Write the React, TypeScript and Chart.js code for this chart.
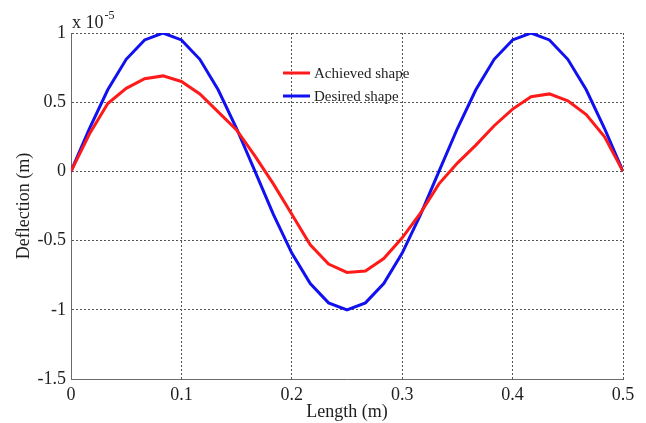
import React, { useEffect, useRef } from "react";
import { Chart, registerables } from "chart.js";

Chart.register(...registerables);

const lengthM = [
  0, 0.0167, 0.0333, 0.05, 0.0667, 0.0833, 0.1, 0.1167, 0.1333, 0.15, 0.1667,
  0.1833, 0.2, 0.2167, 0.2333, 0.25, 0.2667, 0.2833, 0.3, 0.3167, 0.3333,
  0.35, 0.3667, 0.3833, 0.4, 0.4167, 0.4333, 0.45, 0.4667, 0.4833, 0.5,
];

const achieved = [
  0, 0.27, 0.49, 0.6, 0.67, 0.69, 0.65, 0.56, 0.43, 0.3, 0.11,
  -0.09, -0.31, -0.53, -0.67, -0.73, -0.72, -0.63, -0.48, -0.3, -0.09,
  0.06, 0.19, 0.33, 0.45, 0.54, 0.56, 0.51, 0.41, 0.25, 0,
];

const desired = [
  0, 0.31, 0.59, 0.81, 0.95, 1.0, 0.95, 0.81, 0.59, 0.31, 0,
  -0.31, -0.59, -0.81, -0.95, -1.0, -0.95, -0.81, -0.59, -0.31, 0,
  0.31, 0.59, 0.81, 0.95, 1.0, 0.95, 0.81, 0.59, 0.31, 0,
];

const seriesLabels = ["Achieved shape", "Desired shape"];
const seriesColors = ["#ff1a1a", "#1010f0"];
const xTickLabels = ["0", "0.1", "0.2", "0.3", "0.4", "0.5"];
const yTickLabels = ["-1.5", "-1", "-0.5", "0", "0.5", "1"];
const xTitle = "Length (m)";
const yTitle = "Deflection (m)";
const scaleText = "x 10";
const scaleExp = "-5";

const FONT = "'Liberation Serif', 'Times New Roman', serif";
const TEXT = "#1e1e1e";

export default function App() {
  const ref = useRef<HTMLCanvasElement | null>(null);

  useEffect(() => {
    if (!ref.current) return;
    const toPts = (ys: number[]) => ys.map((y, i) => ({ x: lengthM[i], y }));

    const overlay = {
      id: "overlay",
      afterDraw(chart: any) {
        const ctx = chart.ctx as CanvasRenderingContext2D;
        const area = chart.chartArea;
        ctx.save();
        ctx.fillStyle = TEXT;
        ctx.textBaseline = "alphabetic";
        ctx.textAlign = "left";
        ctx.font = `18px ${FONT}`;
        const bx = area.left + 1;
        const by = area.top - 5;
        ctx.fillText(scaleText, bx, by);
        const w = ctx.measureText(scaleText).width;
        ctx.font = `12px ${FONT}`;
        ctx.fillText(scaleExp, bx + w + 1, by - 9);
        const lx = 283;
        const rows = [73, 96];
        ctx.font = `15px ${FONT}`;
        ctx.textBaseline = "middle";
        seriesLabels.forEach((lab, i) => {
          ctx.strokeStyle = seriesColors[i];
          ctx.lineWidth = 3;
          ctx.beginPath();
          ctx.moveTo(lx, rows[i]);
          ctx.lineTo(lx + 27, rows[i]);
          ctx.stroke();
          ctx.fillStyle = TEXT;
          ctx.fillText(lab, lx + 31, rows[i] + 1);
        });
        ctx.restore();
      },
    };

    const chart = new Chart(ref.current, {
      type: "line",
      data: {
        datasets: [
          {
            label: seriesLabels[0],
            data: toPts(achieved),
            borderColor: seriesColors[0],
            borderWidth: 3,
            pointRadius: 0,
            tension: 0,
            fill: false,
          },
          {
            label: seriesLabels[1],
            data: toPts(desired),
            borderColor: seriesColors[1],
            borderWidth: 3,
            pointRadius: 0,
            tension: 0,
            fill: false,
          },
        ],
      },
      options: {
        responsive: false,
        animation: false,
        devicePixelRatio: 1,
        layout: { padding: { top: 33, right: 23, left: 0, bottom: 0 } },
        plugins: {
          legend: { display: false },
          tooltip: { enabled: false },
        },
        scales: {
          x: {
            type: "linear",
            min: 0,
            max: 0.5,
            afterFit: (s: any) => {
              s.height = 44;
            },
            afterBuildTicks: (s: any) => {
              s.ticks = xTickLabels.map((t) => ({ value: parseFloat(t) }));
            },
            ticks: {
              autoSkip: false,
              maxRotation: 0,
              padding: 5,
              color: TEXT,
              font: { family: FONT, size: 18 },
              callback: (v: any, i: number) => xTickLabels[i],
            },
            grid: { color: "#555", lineWidth: 1, drawTicks: false },
            border: { display: true, color: "#6a6a6a", width: 1, dash: [2, 2] },
            title: {
              display: true,
              text: xTitle,
              color: TEXT,
              font: { family: FONT, size: 18 },
              padding: { top: 0, bottom: 0 },
            },
          },
          y: {
            type: "linear",
            min: -1.5,
            max: 1,
            afterFit: (s: any) => {
              s.width = 71;
            },
            afterBuildTicks: (s: any) => {
              s.ticks = yTickLabels.map((t) => ({ value: parseFloat(t) }));
            },
            ticks: {
              autoSkip: false,
              padding: 5,
              color: TEXT,
              font: { family: FONT, size: 18 },
              callback: (v: any, i: number) => yTickLabels[i],
            },
            grid: { color: "#555", lineWidth: 1, drawTicks: false },
            border: { display: true, color: "#6a6a6a", width: 1, dash: [2, 2] },
            title: {
              display: true,
              text: yTitle,
              color: TEXT,
              font: { family: FONT, size: 18 },
              padding: { top: 13, bottom: 0 },
            },
          },
        },
      },
      plugins: [overlay],
    } as any);

    return () => chart.destroy();
  }, []);

  return (
    <div style={{ position: "absolute", left: 0, top: 0, width: 646, height: 423, background: "#fff" }}>
      <canvas ref={ref} width={646} height={423} style={{ display: "block" }} />
    </div>
  );
}
